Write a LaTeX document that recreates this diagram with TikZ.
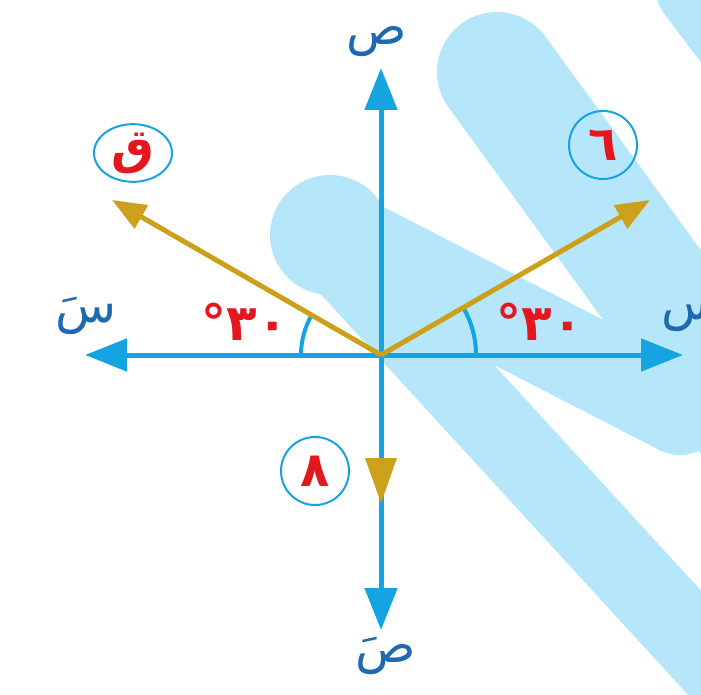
\documentclass[tikz,border=0pt]{standalone}
\usepackage{fontspec}
\TeXXeTstate=1
\newfontfamily\arabicfont[Script=Arabic]{DejaVu Sans}
\usetikzlibrary{arrows.meta,shapes.geometric}
\definecolor{axisblue}{RGB}{22,163,226}
\definecolor{stripeblue}{RGB}{182,230,250}
\definecolor{vecgold}{RGB}{205,160,28}
\definecolor{labred}{RGB}{228,22,30}
\definecolor{textblue}{RGB}{30,105,175}
\begin{document}
\begin{tikzpicture}[x=1pt,y=-1pt,
 axis/.style={draw=axisblue,line width=5pt,-{Triangle[length=42pt,width=32pt]}},
 vec/.style={draw=vecgold,line width=5pt,-{Triangle[length=34pt,width=26pt]}},
 stripe/.style={draw=stripeblue,line cap=round},
 axlabel/.style={text=textblue,font=\arabicfont\fontsize{50}{56}\selectfont,inner sep=0pt},
 circlab/.style={draw=axisblue,line width=2pt,circle,minimum size=68pt,text=labred,font=\arabicfont\bfseries\fontsize{48}{56}\selectfont,inner sep=0pt},
 anglab/.style={text=labred,font=\arabicfont\bfseries\fontsize{50}{56}\selectfont,inner sep=0pt},
 arcline/.style={draw=axisblue,line width=4pt}]
\useasboundingbox (0,0) rectangle (701,695);
% background watermark shapes
\fill[stripeblue] (330,235) circle[radius=60];
\draw[stripe,line width=80pt] (318,232) -- (791,748);
\draw[stripe,line width=90pt] (330,230) -- (680,410);
\draw[stripe,line width=120pt] (497,72) -- (850,557);
\draw[stripe,line width=100pt] (705,-15) -- (800,110);
% coordinates
\coordinate (O) at (381,355);
\coordinate (T) at (381,68);
\coordinate (B) at (381,630);
\coordinate (L) at (85,355);
\coordinate (R) at (683,355);
\coordinate (VL) at (112,200);
\coordinate (VR) at (650,200);
% axes
\draw[axis] (O) -- (T);
\draw[axis] (O) -- (B);
\draw[axis] (O) -- (L);
\draw[axis] (O) -- (R);
% angle arcs
\draw[arcline] (O) ++(-80,0) arc[start angle=-180,end angle=-150,radius=80];
\draw[arcline] (O) ++(95,0) arc[start angle=0,end angle=-30,radius=95];
% vectors
\draw[vec] (O) -- (VL);
\draw[vec] (O) -- (VR);
\fill[vecgold] (365,458) -- (397,458) -- (381,503) -- cycle;
% axis labels
\node[axlabel] (yp) at (377,42) {\beginR ص\endR};
\node[axlabel] (xm) at (86,316) {\beginR سَ\endR};
\node[axlabel] (xp) at (692,316) {\beginR س\endR};
\node[axlabel] (ym) at (386,656) {\beginR صَ\endR};
% circled labels
\node[circlab,ellipse,minimum width=78pt,minimum height=54pt] (cq) at (133,153) {\beginR ق\endR};
\node[circlab] (c6) at (603,145) {\beginR ٦\endR};
\node[circlab] (c8) at (315,471) {\beginR ٨\endR};
% angle labels
\node[anglab] (al) at (245,322) {\beginR\beginL ٣٠\endL°\endR};
\node[anglab] (ar) at (540,322) {\beginR\beginL ٣٠\endL°\endR};
\end{tikzpicture}
\end{document}
